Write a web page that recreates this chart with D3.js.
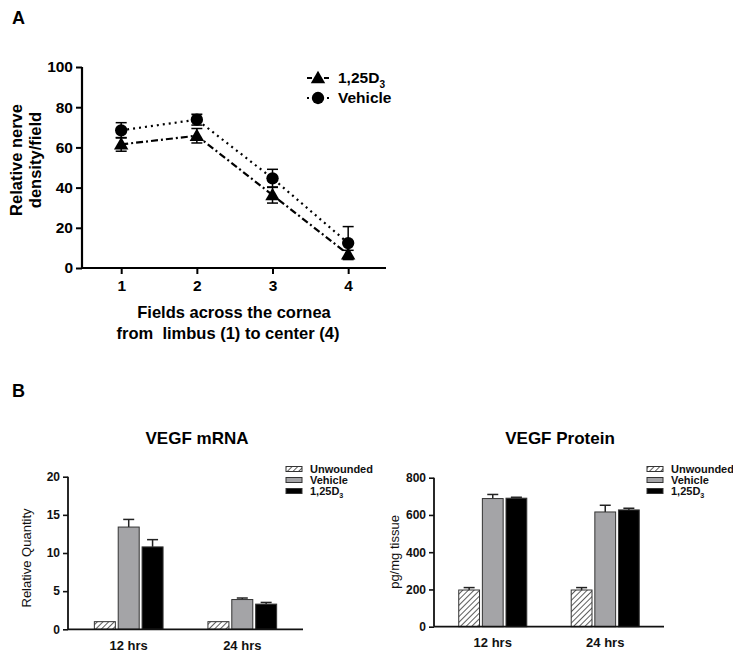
<!DOCTYPE html>
<html><head><meta charset="utf-8">
<script src="https://cdn.jsdelivr.net/npm/d3@7"></script>
<style>
body{margin:0;background:#fff;}
svg{display:block;font-family:"Liberation Sans",Arial,sans-serif;}
</style></head>
<body><svg id="c" width="733" height="663"></svg>
<script>
// ---------- DATA ----------
const fields = [1, 2, 3, 4];
const fieldTicks = [1, 2, 3, 4];
const aTicks = [0, 20, 40, 60, 80, 100];
const d3Mean = [61.5, 65.8, 36.3, 6.8];
const d3Err = [3.4, 3.6, 4.0, 2.0];
const vehMean = [68.5, 73.8, 44.6, 12.4];
const vehErr = [3.8, 2.7, 4.5, 8.2];

const timeCats = ["12 hrs", "24 hrs"];
const groupNames = ["Unwounded", "Vehicle", "1,25D3"];
const mrnaUnw = [1.0, 1.0];
const mrnaUnwErr = [0, 0];
const mrnaVeh = [13.4, 3.9];
const mrnaVehErr = [1.0, 0.2];
const mrnaD3 = [10.8, 3.3];
const mrnaD3Err = [0.95, 0.22];
const mrnaTicks = [0, 5, 10, 15, 20];

const protUnw = [197, 197];
const protUnwErr = [13, 13];
const protVeh = [688, 616];
const protVehErr = [22, 36];
const protD3 = [690, 627];
const protD3Err = [5, 9];
const protTicks = [0, 200, 400, 600, 800];

// ---------- SETUP ----------
const svg = d3.select("#c");
const defs = svg.append("defs");
const pat = defs.append("pattern").attr("id", "hatch").attr("patternUnits", "userSpaceOnUse")
  .attr("width", 4).attr("height", 4).attr("patternTransform", "rotate(45)");
pat.append("rect").attr("width", 4).attr("height", 4).attr("fill", "#fff");
pat.append("line").attr("x1", 0).attr("y1", 0).attr("x2", 0).attr("y2", 4)
  .attr("stroke", "#333").attr("stroke-width", 1.6);

const fills = { "Unwounded": "url(#hatch)", "Vehicle": "#a4a4a7", "1,25D3": "#000" };

function d3Label(sel, size) {
  sel.append("tspan").text("1,25D");
  sel.append("tspan").attr("font-size", size * 0.65).attr("dy", size * 0.3).text("3");
}

// Panel letters
svg.append("text").attr("x", 12).attr("y", 24).attr("font-size", 18).attr("font-weight", "bold").text("A");
svg.append("text").attr("x", 12).attr("y", 397).attr("font-size", 18).attr("font-weight", "bold").text("B");

// ---------- PANEL A ----------
const ax = d3.scaleLinear().domain([0.482, 4.5]).range([82, 386]);
const ay = d3.scaleLinear().domain([0, 100]).range([268, 67]);
const gA = svg.append("g");

const yAxA = gA.append("g").attr("transform", "translate(82,0)")
  .call(d3.axisLeft(ay).tickValues(aTicks).tickSize(6).tickPadding(3));
const xAxA = gA.append("g").attr("transform", "translate(0,268)")
  .call(d3.axisBottom(ax).tickValues(fieldTicks).tickSize(6).tickPadding(6).tickFormat(d3.format("d")));
[yAxA, xAxA].forEach(a => {
  a.select(".domain").attr("stroke", "#000").attr("stroke-width", 2.2);
  a.selectAll(".tick line").attr("stroke", "#000").attr("stroke-width", 2);
  a.selectAll(".tick text").attr("font-size", 15.5).attr("font-weight", "bold").attr("fill", "#000")
    .attr("font-family", "Liberation Sans, Arial, sans-serif");
});
yAxA.select(".domain").attr("d", "M0,67V268");
xAxA.select(".domain").attr("d", "M82,0H386");

// y label
const ylA = gA.append("text").attr("transform", "translate(0,160) rotate(-90)")
  .attr("text-anchor", "middle").attr("font-size", 16.5).attr("font-weight", "bold");
ylA.append("tspan").attr("x", 0).attr("y", 22).text("Relative nerve");
ylA.append("tspan").attr("x", 0).attr("y", 41).text("density/field");
// x label
gA.append("text").attr("x", 234).attr("y", 318).attr("text-anchor", "middle")
  .attr("font-size", 16.5).attr("font-weight", "bold").text("Fields across the cornea");
gA.append("text").attr("x", 228).attr("y", 339).attr("text-anchor", "middle")
  .attr("font-size", 16.5).attr("font-weight", "bold").attr("xml:space", "preserve").text("from  limbus (1) to center (4)");

const line = d3.line().x(d => ax(d[0])).y(d => ay(d[1]));
const series = [
  { name: "1,25D3", mean: d3Mean, err: d3Err, dash: "7,3,2,3", legDash: "5,12,5", sym: d3.symbolTriangle, size: 90 },
  { name: "Vehicle", mean: vehMean, err: vehErr, dash: "2,4", legDash: "2,8,2,8,2", sym: d3.symbolCircle, size: 120 }
];
series.forEach(s => {
  const pts = fields.map((f, i) => [f, s.mean[i]]);
  gA.append("path").attr("d", line(pts)).attr("fill", "none").attr("stroke", "#000")
    .attr("stroke-width", 2.2).attr("stroke-dasharray", s.dash);
  fields.forEach((f, i) => {
    const x = ax(f), y0 = ay(s.mean[i] - s.err[i]), y1 = ay(s.mean[i] + s.err[i]);
    gA.append("line").attr("x1", x).attr("x2", x).attr("y1", y0).attr("y2", y1).attr("stroke", "#000").attr("stroke-width", 1.5);
    [y0, y1].forEach(yy => gA.append("line").attr("x1", x - 5.5).attr("x2", x + 5.5).attr("y1", yy).attr("y2", yy)
      .attr("stroke", "#000").attr("stroke-width", 1.5));
    gA.append("path").attr("d", d3.symbol().type(s.sym).size(s.size)())
      .attr("transform", `translate(${x},${ay(s.mean[i]) + (s.sym === d3.symbolTriangle ? 1 : 0)})`).attr("fill", "#000");
  });
});
// legend A
series.forEach((s, i) => {
  const ly = 78 + i * 20;
  gA.append("line").attr("x1", 307).attr("x2", 329).attr("y1", ly).attr("y2", ly)
    .attr("stroke", "#000").attr("stroke-width", 2.2).attr("stroke-dasharray", s.legDash);
  gA.append("path").attr("d", d3.symbol().type(s.sym).size(s.size)())
    .attr("transform", `translate(318,${ly + (i === 0 ? 1 : 0)})`).attr("fill", "#000");
  const t = gA.append("text").attr("x", 338).attr("y", ly + 5).attr("font-size", 15.5).attr("font-weight", "bold");
  if (s.name === "1,25D3") d3Label(t, 15.5); else t.text(s.name);
});

// ---------- PANEL B ----------
function barChart(opts) {
  const g = svg.append("g");
  const x = d3.scaleBand().domain(timeCats).range([opts.x0, opts.x1]).paddingInner(0.395).paddingOuter(opts.po);
  const xi = d3.scaleBand().domain(groupNames).range([0, x.bandwidth()]).paddingInner(0.12);
  const y = d3.scaleLinear().domain([0, opts.max]).range([opts.yb, opts.yt]);
  const vals = { "Unwounded": opts.unw, "Vehicle": opts.veh, "1,25D3": opts.d3 };
  const errs = { "Unwounded": opts.unwErr, "Vehicle": opts.vehErr, "1,25D3": opts.d3Err };

  g.append("text").attr("x", opts.tx).attr("y", 444).attr("text-anchor", "middle")
    .attr("font-size", 17).attr("font-weight", "bold").text(opts.title);

  timeCats.forEach((c, ci) => {
    groupNames.forEach(gn => {
      const bx = x(c) + xi(gn), v = vals[gn][ci], e = errs[gn][ci];
      if (e > 0) {
        const cx = bx + xi.bandwidth() / 2;
        g.append("line").attr("x1", cx).attr("x2", cx).attr("y1", y(v)).attr("y2", y(v + e)).attr("stroke", "#222").attr("stroke-width", 1.5);
        g.append("line").attr("x1", cx - 5.5).attr("x2", cx + 5.5).attr("y1", y(v + e)).attr("y2", y(v + e)).attr("stroke", "#222").attr("stroke-width", 1.5);
      }
      g.append("rect").attr("x", bx).attr("y", y(v)).attr("width", xi.bandwidth()).attr("height", opts.yb - y(v))
        .attr("fill", fills[gn]).attr("stroke", "#333").attr("stroke-width", 1);
    });
  });

  const yA = g.append("g").attr("transform", `translate(${opts.x0},0)`)
    .call(d3.axisLeft(y).tickValues(opts.ticks).tickSize(5).tickPadding(3));
  const xA = g.append("g").attr("transform", `translate(0,${opts.yb})`)
    .call(d3.axisBottom(x).tickSize(0).tickPadding(11));
  [yA, xA].forEach(a => {
    a.select(".domain").attr("stroke", "#111").attr("stroke-width", 1.8);
    a.selectAll(".tick line").attr("stroke", "#111").attr("stroke-width", 1.6);
    a.selectAll(".tick text").attr("font-weight", "bold").attr("fill", "#111")
      .attr("font-family", "Liberation Sans, Arial, sans-serif");
  });
  yA.selectAll(".tick text").attr("font-size", 12);
  xA.selectAll(".tick text").attr("font-size", 13);
  yA.select(".domain").attr("d", `M0,${opts.yt}V${opts.yb}`);
  xA.select(".domain").attr("d", `M${opts.x0},0H${opts.x1}`);

  g.append("text").attr("transform", `translate(${opts.ylx},${opts.yly}) rotate(-90)`)
    .attr("text-anchor", "middle").attr("font-size", 13).attr("fill", "#111").text(opts.ylabel);

  groupNames.forEach((gn, i) => {
    const ly = 469 + i * 11;
    g.append("rect").attr("x", opts.lx).attr("y", ly - 2.5).attr("width", 16).attr("height", 5)
      .attr("fill", fills[gn]).attr("stroke", "#333").attr("stroke-width", 1);
    const t = g.append("text").attr("x", opts.lx + 24).attr("y", ly + 3.5).attr("font-size", 11).attr("font-weight", "bold").attr("fill", "#111");
    if (gn === "1,25D3") d3Label(t, 11); else t.text(gn);
  });
}

barChart({ title: "VEGF mRNA", tx: 197, x0: 68, x1: 303, po: 0.232, yb: 629.3, yt: 476.7, max: 20,
  ticks: mrnaTicks, unw: mrnaUnw, unwErr: mrnaUnwErr, veh: mrnaVeh, vehErr: mrnaVehErr, d3: mrnaD3, d3Err: mrnaD3Err,
  ylabel: "Relative Quantity", ylx: 31, yly: 558, lx: 286 });
barChart({ title: "VEGF Protein", tx: 560, x0: 434, x1: 664, po: 0.22, yb: 626.7, yt: 477.7, max: 800,
  ticks: protTicks, unw: protUnw, unwErr: protUnwErr, veh: protVeh, vehErr: protVehErr, d3: protD3, d3Err: protD3Err,
  ylabel: "pg/mg tissue", ylx: 399, yly: 552, lx: 647 });
</script></body></html>
